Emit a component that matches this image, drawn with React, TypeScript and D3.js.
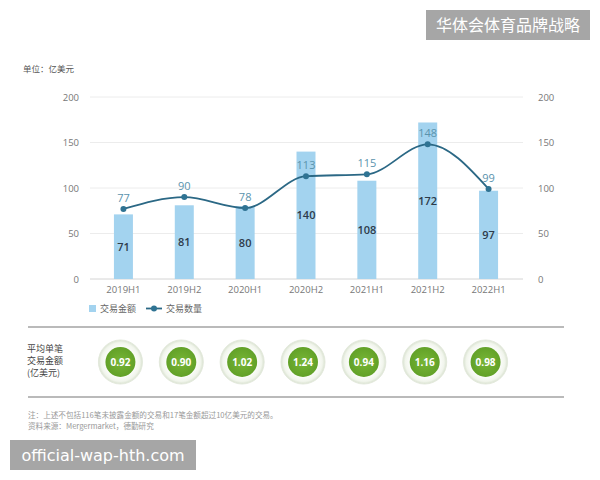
import { useRef, useEffect } from "react";
import * as d3 from "d3";

const periods = ["2019H1", "2019H2", "2020H1", "2020H2", "2021H1", "2021H2", "2022H1"];
const dealValue = [71, 81, 80, 140, 108, 172, 97];
const dealCount = [77, 90, 78, 113, 115, 148, 99];
const avgValue = ["0.92", "0.90", "1.02", "1.24", "0.94", "1.16", "0.98"];
const yTicks = [0, 50, 100, 150, 200];
const legendLabels = ["交易金额", "交易数量"];
const avgLabel = ["平均单笔", "交易金额", "(亿美元)"];
const notes = [
  "注：上述不包括116笔未披露金额的交易和17笔金额超过10亿美元的交易。",
  "资料来源：Mergermarket，德勤研究",
];

const FONT = "'Open Sans', 'Noto Sans CJK SC', sans-serif";
const CJK = "'Noto Sans CJK SC', sans-serif";

const App = () => {
  const svgRef = useRef<SVGSVGElement>(null);

  useEffect(() => {
    const w = 600;
    const h = 480;
    const svg = d3.select(svgRef.current).attr("width", w).attr("height", h);
    svg.selectAll("*").remove();

    const defs = svg.append("defs");
    const ring = defs.append("radialGradient").attr("id", "ring");
    ring.append("stop").attr("offset", "0.6").attr("stop-color", "#ffffff");
    ring.append("stop").attr("offset", "0.88").attr("stop-color", "#f1f5ec");
    ring.append("stop").attr("offset", "1").attr("stop-color", "#d9e2d0");
    const green = defs.append("radialGradient").attr("id", "green");
    green.append("stop").attr("offset", "0").attr("stop-color", "#78b636");
    green.append("stop").attr("offset", "1").attr("stop-color", "#62a128");

    const x = d3.scaleBand().domain(periods).range([93, 519]);
    const y = d3.scaleLinear().domain([0, 200]).range([279, 97]);
    const barW = 19;
    const cx = (p: string) => (x(p) as number) + x.bandwidth() / 2;

    // unit
    svg.append("text").attr("x", 23).attr("y", 72)
      .attr("font-family", CJK).attr("font-size", 8.5).attr("fill", "#555")
      .text("单位：亿美元");

    // grid
    svg.append("g").selectAll("line").data(yTicks.slice(1)).join("line")
      .attr("x1", 90).attr("x2", 523)
      .attr("y1", (d) => y(d)).attr("y2", (d) => y(d))
      .attr("stroke", "#ececec").attr("stroke-width", 1);
    svg.append("line").attr("x1", 90).attr("x2", 523)
      .attr("y1", y(0)).attr("y2", y(0)).attr("stroke", "#d4d4d4");

    // axes labels
    const axisL = d3.axisLeft(y).tickValues(yTicks).tickSize(0).tickPadding(0);
    const gl = svg.append("g").attr("transform", "translate(79,0)").call(axisL);
    const axisR = d3.axisRight(y).tickValues(yTicks).tickSize(0).tickPadding(0);
    const gr = svg.append("g").attr("transform", "translate(538,0)").call(axisR);
    [gl, gr].forEach((g) => {
      g.select(".domain").remove();
      g.selectAll("text").attr("font-family", FONT).attr("font-size", 9.5).attr("fill", "#777");
    });

    const axisB = d3.axisBottom(x).tickSize(0).tickPadding(0);
    const gb = svg.append("g").attr("transform", "translate(0,286)").call(axisB);
    gb.select(".domain").remove();
    gb.selectAll("text").attr("font-family", FONT).attr("font-size", 9.5).attr("fill", "#777");

    // bars
    svg.append("g").selectAll("rect").data(dealValue).join("rect")
      .attr("x", (_, i) => cx(periods[i]) - barW / 2)
      .attr("width", barW)
      .attr("y", (d) => y(d))
      .attr("height", (d) => y(0) - y(d))
      .attr("fill", "#a3d3ef");
    svg.append("g").selectAll("text").data(dealValue).join("text")
      .attr("x", (_, i) => cx(periods[i]))
      .attr("y", (d) => (y(d) + y(0)) / 2 + 4)
      .attr("text-anchor", "middle")
      .attr("font-family", FONT).attr("font-size", 11).attr("font-weight", 600)
      .attr("fill", "#2e3b4a")
      .text((d) => d);

    // line
    const line = d3.line<number>()
      .x((_, i) => cx(periods[i]))
      .y((d) => y(d))
      .curve(d3.curveMonotoneX);
    svg.append("path").datum(dealCount)
      .attr("fill", "none").attr("stroke", "#2b6885").attr("stroke-width", 1.8)
      .attr("d", line);
    svg.append("g").selectAll("circle").data(dealCount).join("circle")
      .attr("cx", (_, i) => cx(periods[i])).attr("cy", (d) => y(d)).attr("r", 3)
      .attr("fill", "#2f7393");
    svg.append("g").selectAll("text").data(dealCount).join("text")
      .attr("x", (_, i) => cx(periods[i]))
      .attr("y", (d) => y(d) - 7)
      .attr("text-anchor", "middle")
      .attr("font-family", FONT).attr("font-size", 11)
      .attr("fill", "#5a93ad")
      .text((d) => d);

    // legend
    const lg = svg.append("g").attr("font-family", CJK).attr("font-size", 9).attr("fill", "#666");
    lg.append("rect").attr("x", 89).attr("y", 305).attr("width", 7).attr("height", 7).attr("fill", "#a3d3ef");
    lg.append("text").attr("x", 100).attr("y", 312).text(legendLabels[0]);
    lg.append("line").attr("x1", 146).attr("x2", 162).attr("y1", 308.5).attr("y2", 308.5)
      .attr("stroke", "#2b6885").attr("stroke-width", 1.8);
    lg.append("circle").attr("cx", 154).attr("cy", 308.5).attr("r", 3).attr("fill", "#2f7393");
    lg.append("text").attr("x", 166).attr("y", 312).text(legendLabels[1]);

    // separators
    svg.append("line").attr("x1", 28).attr("x2", 564).attr("y1", 327).attr("y2", 327)
      .attr("stroke", "#777").attr("stroke-width", 1.2);
    svg.append("line").attr("x1", 28).attr("x2", 564).attr("y1", 397).attr("y2", 397)
      .attr("stroke", "#777").attr("stroke-width", 1.2);

    // average label
    svg.append("g").selectAll("text").data(avgLabel).join("text")
      .attr("x", 27).attr("y", (_, i) => 352 + i * 12)
      .attr("font-family", CJK).attr("font-size", 9).attr("fill", "#444")
      .text((d) => d);

    // average circles
    const cg = svg.append("g").selectAll("g").data(avgValue).join("g")
      .attr("transform", (_, i) => `translate(${cx(periods[i]) - 3},362)`);
    cg.append("circle").attr("r", 22).attr("fill", "url(#ring)")
      .attr("stroke", "#e3e9dc").attr("stroke-width", 1);
    cg.append("circle").attr("r", 15).attr("fill", "url(#green)");
    cg.append("text").attr("y", 4).attr("text-anchor", "middle")
      .attr("font-family", FONT).attr("font-size", 10).attr("font-weight", 700)
      .attr("fill", "#fff").text((d) => d);

    // notes
    svg.append("g").selectAll("text").data(notes).join("text")
      .attr("x", 28).attr("y", (_, i) => 418 + i * 11)
      .attr("font-family", CJK).attr("font-size", 7.6).attr("fill", "#999")
      .text((d) => d);

    // watermarks
    svg.append("rect").attr("x", 426).attr("y", 10).attr("width", 164).attr("height", 30).attr("fill", "#a6a6a6");
    svg.append("text").attr("x", 508).attr("y", 31).attr("text-anchor", "middle")
      .attr("font-family", CJK).attr("font-size", 16).attr("fill", "#fff").text("华体会体育品牌战略");
    svg.append("rect").attr("x", 10).attr("y", 440).attr("width", 186).attr("height", 30).attr("fill", "#a6a6a6");
    svg.append("text").attr("x", 103).attr("y", 461).attr("text-anchor", "middle")
      .attr("font-family", "'DejaVu Sans', sans-serif").attr("font-size", 16).attr("fill", "#fff")
      .text("official-wap-hth.com");
  }, []);

  return (
    <div style={{ position: "absolute", left: 0, top: 0 }}>
      <svg ref={svgRef} style={{ display: "block" }}></svg>
    </div>
  );
};

export default App;
